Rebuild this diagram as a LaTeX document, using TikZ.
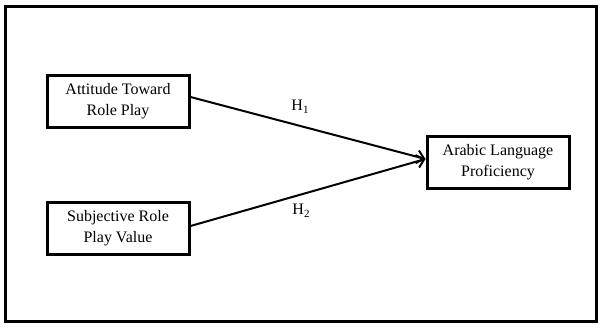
\documentclass[tikz,border=0pt]{standalone}
\usepackage{fontspec}
\setmainfont{Liberation Serif}
\usetikzlibrary{arrows.meta}
\tikzset{
  varbox/.style={draw, line width=3pt, minimum width=142pt, minimum height=52pt,
    align=center, inner sep=0pt, font=\fontsize{16}{21}\selectfont},
  link/.style={line width=2pt, -{Straight Barb[length=7pt,width=13pt,line width=2pt]}},
  hlabel/.style={font=\fontsize{16}{21}\selectfont, inner sep=0pt}
}
\newcommand{\hsub}[1]{H{\fontsize{11}{11}\selectfont\raisebox{-3pt}{#1}}}
\begin{document}
\begin{tikzpicture}[x=1pt,y=-1pt]
\useasboundingbox (0,0) rectangle (605,327);
\node[draw, line width=3pt, minimum width=591pt, minimum height=315pt, inner sep=0pt] (frame) at (300.5,163.5) {};
\node[varbox] (att) at (118,101) {Attitude Toward\\Role Play};
\node[varbox] (subj) at (118,228.5) {Subjective Role\\Play Value};
\node[varbox] (arab) at (498,162) {Arabic Language\\Proficiency};
\coordinate (tip) at ([yshift=3pt]arab.west);
\draw[link] ([yshift=4pt]att.east) -- (tip);
\draw[link] ([yshift=2.5pt]subj.east) -- (tip);
\node[hlabel] (h1) at (300,107) {\hsub{1}};
\node[hlabel] (h2) at (301,211) {\hsub{2}};
\end{tikzpicture}
\end{document}
